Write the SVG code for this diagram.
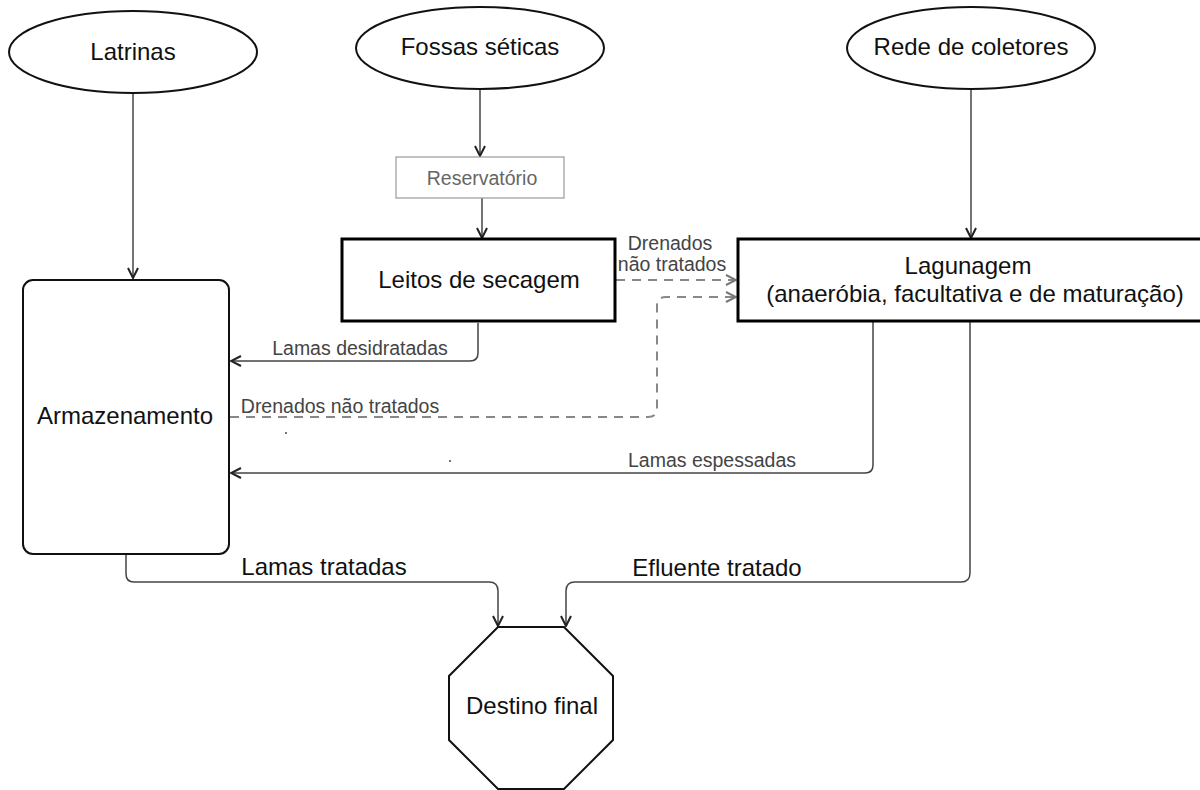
<svg xmlns="http://www.w3.org/2000/svg" width="1200" height="790" viewBox="0 0 1200 790">
  <style>
    text { font-family: "Liberation Sans", Arial, sans-serif; text-anchor: middle; }
    .node { fill: #fff; stroke: #111; stroke-width: 2; }
    .heavy { fill: #fff; stroke: #000; stroke-width: 3; }
    .light { fill: #fff; stroke: #999; stroke-width: 1.2; }
    .big { font-size: 24px; fill: #111; }
    .small { font-size: 19.5px; fill: #444; }
    .edge { fill: none; stroke: #444; stroke-width: 1.5; marker-end: url(#arrow); }
    .dash { fill: none; stroke: #888; stroke-width: 2; stroke-dasharray: 9 7; marker-end: url(#arrowgray); }
  </style>
  <defs>
    <marker id="arrow" viewBox="0 0 12 12" refX="11" refY="6" markerWidth="12" markerHeight="12" markerUnits="userSpaceOnUse" orient="auto">
      <path d="M1,1 L11,6 L1,11" fill="none" stroke="#222" stroke-width="2"/>
    </marker>
    <marker id="arrowgray" viewBox="0 0 12 12" refX="11" refY="6" markerWidth="12" markerHeight="12" markerUnits="userSpaceOnUse" orient="auto">
      <path d="M1,1 L11,6 L1,11" fill="none" stroke="#777" stroke-width="2"/>
    </marker>
  </defs>
  <rect width="1200" height="790" fill="#fff"/>

  <!-- connectors -->
  <g id="connectors">
    <path class="edge" d="M133,94 L133,278"/>
    <path class="edge" d="M480,90 L480,156"/>
    <path class="edge" d="M482,198 L482,238"/>
    <path class="edge" d="M971,90 L971,238"/>
    <path class="dash" d="M616,280 L736,280"/>
    <path class="dash" d="M230,417 L648,417 Q657,417 657,408 L657,306 Q657,297 666,297 L736,297"/>
    <path class="edge" d="M478,323 L478,353 Q478,361 470,361 L231,361"/>
    <path class="edge" d="M873,322 L873,465 Q873,473 865,473 L231,473"/>
    <path class="edge" d="M970,322 L970,573 Q970,582 961,582 L575,582 Q566,582 566,591 L566,626"/>
    <path class="edge" d="M126,555 L126,574 Q126,582 134,582 L489,582 Q498,582 498,591 L498,626"/>
    <text class="small" x="670" y="250">Drenados</text>
    <text class="small" x="672" y="271">não tratados</text>
    <text class="small" x="360" y="355">Lamas desidratadas</text>
    <text class="small" x="340" y="413">Drenados não tratados</text>
    <text class="small" x="712" y="467">Lamas espessadas</text>
    <text class="big" x="324" y="575">Lamas tratadas</text>
    <text class="big" x="717" y="576">Efluente tratado</text>
    <circle cx="286" cy="433" r="0.9" fill="#333"/>
    <circle cx="450" cy="461" r="0.9" fill="#333"/>
  </g>

  <g id="latrinas">
    <ellipse class="node" cx="133" cy="52" rx="124" ry="41"/>
    <text class="big" x="133" y="60">Latrinas</text>
  </g>
  <g id="fossas">
    <ellipse class="node" cx="480" cy="48" rx="124" ry="41"/>
    <text class="big" x="480" y="55">Fossas séticas</text>
  </g>
  <g id="rede">
    <ellipse class="node" cx="971" cy="48" rx="124" ry="41"/>
    <text class="big" x="971" y="55">Rede de coletores</text>
  </g>
  <g id="reservatorio">
    <rect class="light" x="396" y="157" width="168" height="41"/>
    <text class="small" x="482" y="185" style="fill:#666">Reservatório</text>
  </g>
  <g id="leitos">
    <rect class="heavy" x="342" y="239" width="273" height="82"/>
    <text class="big" x="479" y="288">Leitos de secagem</text>
  </g>
  <g id="lagunagem">
    <rect class="heavy" x="738" y="239" width="470" height="82"/>
    <text class="big" x="968" y="274">Lagunagem</text>
    <text class="big" x="975" y="302">(anaeróbia, facultativa e de maturação)</text>
  </g>
  <g id="armazenamento">
    <rect class="node" x="23" y="280" width="206" height="274" rx="10"/>
    <text class="big" x="125" y="424">Armazenamento</text>
  </g>
  <g id="destino">
    <polygon class="node" points="498,627 564,627 613,676 613,740 564,789 498,789 449,740 449,676"/>
    <text class="big" x="532" y="714">Destino final</text>
  </g>
</svg>
